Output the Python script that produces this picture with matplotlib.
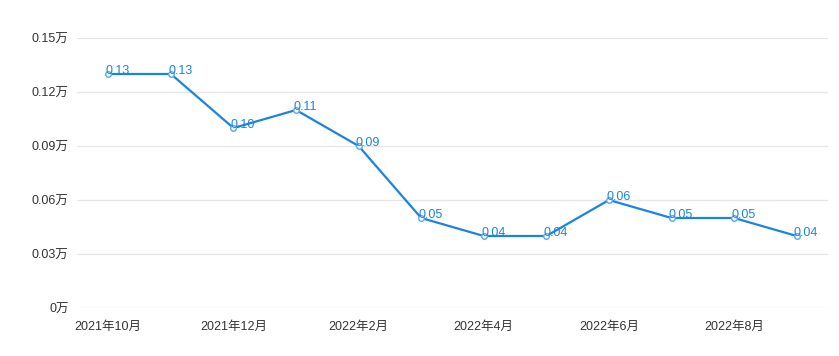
import matplotlib
matplotlib.use("Agg")
import matplotlib.pyplot as plt

plt.rcParams['font.family'] = ['Liberation Sans', 'Noto Sans CJK SC', 'DejaVu Sans']

# monthly values (unit: 万)
months = ["2021年10月", "2021年11月", "2021年12月", "2022年1月", "2022年2月", "2022年3月",
          "2022年4月", "2022年5月", "2022年6月", "2022年7月", "2022年8月", "2022年9月"]
values = [0.13, 0.13, 0.10, 0.11, 0.09, 0.05, 0.04, 0.04, 0.06, 0.05, 0.05, 0.04]
yticks = [0, 0.03, 0.06, 0.09, 0.12, 0.15]
ytick_labels = ["0万", "0.03万", "0.06万", "0.09万", "0.12万", "0.15万"]

blue = '#1a84e0'

fig = plt.figure(figsize=(8.39, 3.56), dpi=100)
ax = fig.add_axes([77 / 839, 48 / 356, 751 / 839, 270 / 356])

x = list(range(len(values)))
ax.plot(x, values, color=blue, linewidth=1.6, marker='o', markersize=4,
        markerfacecolor='white', markeredgecolor='#5aa8ec', markeredgewidth=1, zorder=3)

# value labels next to each point
for xi, v in zip(x, values):
    ax.annotate(f"{v:.2f}", (xi, v), xytext=(-2, -2), textcoords='offset points',
                color=blue, fontsize=9, ha='left', va='bottom', zorder=4)

ax.set_xlim(-0.5, len(values) - 0.5)
ax.set_ylim(0, 0.15)
ax.set_yticks(yticks)
ax.set_yticklabels(ytick_labels)
ax.set_xticks(x[::2])
ax.set_xticklabels(months[::2])

ax.grid(axis='y', color='#e6e6e6', linewidth=0.9)
ax.set_axisbelow(True)
for s in ax.spines.values():
    s.set_visible(False)
ax.tick_params(length=0, labelsize=9, colors='#333333')
ax.tick_params(axis='y', pad=6)
ax.tick_params(axis='x', pad=9)

plt.savefig("out.png", dpi=100)
